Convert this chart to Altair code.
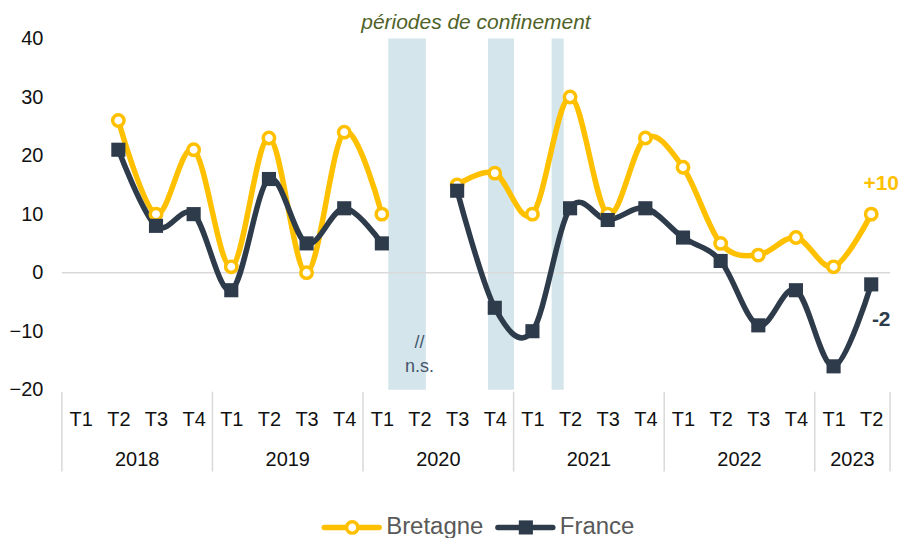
import altair as alt
import pandas as pd

# ---------------- data ----------------
quarters = ["T1", "T2", "T3", "T4"] * 5 + ["T1", "T2"]
years = ["2018", "2019", "2020", "2021", "2022", "2023"]
year_counts = [4, 4, 4, 4, 4, 2]

bretagne = [None, 26, 10, 21, 1, 23, 0, 24, 10, None, 15, 17, 10, 30, 10, 23, 18, 5, 3, 6, 1, 10]
france = [None, 21, 8, 10, -3, 16, 5, 11, 5, None, 14, -6, -10, 11, 9, 11, 6, 2, -9, -3, -16, -2]

series_names = ["Bretagne", "France"]
series_colors = ["#FFC000", "#2E3B4B"]

# confinement periods, in quarter-index units
band_start = [8.17, 10.82, 12.51]
band_end = [9.17, 11.51, 12.83]
band_title = "périodes de confinement"

ns_labels = ["//", "n.s."]
ns_values = [-12, -16.2]
ns_quarter = 9

end_labels = ["+10", "-2"]

# ---------------- derived tables ----------------
rows = []
for name, vals in zip(series_names, [bretagne, france]):
    seg = 0
    for i, v in enumerate(vals):
        if v is None:
            seg += 1
            continue
        rows.append({"series": name, "idx": i, "value": v, "seg": f"{name}-{seg}"})
df = pd.DataFrame(rows)

bounds = [-0.5]
for c in year_counts:
    bounds.append(bounds[-1] + c)
sep_df = pd.DataFrame({"pos": bounds})
year_df = pd.DataFrame({
    "year": years,
    "pos": [(bounds[k] + bounds[k + 1]) / 2 for k in range(len(years))],
})
band_df = pd.DataFrame({"start": band_start, "end": band_end})
title_df = pd.DataFrame({"label": [band_title], "pos": [(min(band_start) + max(band_end)) / 2]})
ns_df = pd.DataFrame({"label": ns_labels, "value": ns_values, "pos": [ns_quarter] * 2})
end_df = pd.DataFrame({
    "series": series_names,
    "idx": [len(bretagne) - 1] * 2,
    "value": [bretagne[-1], france[-1]],
    "label": end_labels,
})

n = len(quarters)
W, H = 830, 352
FONT = "Liberation Sans"
CIRCLE_SIZE = 130
SQUARE_SIZE = 200

xscale = alt.Scale(domain=[-0.5, n - 0.5], nice=False, zero=False)
yscale = alt.Scale(domain=[-20, 40], nice=False)
cscale = alt.Scale(domain=series_names, range=series_colors)

label_expr = "[" + ",".join(f"'{q}'" for q in quarters) + "][datum.value]"
xaxis = alt.Axis(values=list(range(n)), labelExpr=label_expr, title=None, domain=False,
                 ticks=False, grid=False, labelFontSize=20, labelFont=FONT,
                 labelColor="#111111", labelPadding=30, labelBaseline="middle",
                 labelAngle=0, labelFlush=False, labelOverlap=False)
yaxis = alt.Axis(values=[-20, -10, 0, 10, 20, 30, 40], title=None, domain=False,
                 ticks=False, grid=False, labelFontSize=20, labelFont=FONT,
                 labelColor="#111111", labelPadding=19)

X = lambda f: alt.X(f, scale=xscale, axis=xaxis, title=None)
Y = lambda f: alt.Y(f, scale=yscale, axis=yaxis, title=None)

bands = alt.Chart(band_df).mark_rect(color="#D4E6EC").encode(
    x=X("start:Q"), x2="end:Q", y=alt.value(0), y2=alt.value(H))

zero = alt.Chart(pd.DataFrame({"v": [0]})).mark_rule(color="#D9D9D9", strokeWidth=1.5).encode(
    y=Y("v:Q"), x=alt.value(0), x2=alt.value(W))

seps = alt.Chart(sep_df).mark_rule(color="#D9D9D9", strokeWidth=1.5).encode(
    x=X("pos:Q"), y=alt.value(H + 2), y2=alt.value(H + 82))

year_text = alt.Chart(year_df).mark_text(fontSize=20, font=FONT, color="#111111",
                                         baseline="middle").encode(
    x=X("pos:Q"), y=alt.value(H + 70), text="year:N")

lines = alt.Chart(df).mark_line(interpolate="cardinal", strokeWidth=5.5, strokeCap="round").encode(
    x=X("idx:Q"),
    y=Y("value:Q"),
    color=alt.Color("series:N", scale=cscale, legend=None),
    detail="seg:N",
    order="idx:Q",
)

circles = alt.Chart(df).transform_filter(alt.datum.series == series_names[0]).mark_point(
    shape="circle", filled=True, fill="white", stroke=series_colors[0], strokeWidth=3.5,
    size=CIRCLE_SIZE, opacity=1).encode(x=X("idx:Q"), y=Y("value:Q"))

squares = alt.Chart(df).transform_filter(alt.datum.series == series_names[1]).mark_point(
    shape="square", filled=True, fill=series_colors[1], strokeWidth=0,
    size=SQUARE_SIZE, opacity=1).encode(x=X("idx:Q"), y=Y("value:Q"))

end_b = alt.Chart(end_df).transform_filter(alt.datum.series == series_names[0]).mark_text(
    fontSize=21, font=FONT, fontWeight="bold", color=series_colors[0], dx=10, dy=-30).encode(
    x=X("idx:Q"), y=Y("value:Q"), text="label:N")
end_f = alt.Chart(end_df).transform_filter(alt.datum.series == series_names[1]).mark_text(
    fontSize=21, font=FONT, fontWeight="bold", color=series_colors[1], dx=10, dy=36).encode(
    x=X("idx:Q"), y=Y("value:Q"), text="label:N")

ns_text = alt.Chart(ns_df).mark_text(fontSize=18, font=FONT, color="#44546A").encode(
    x=X("pos:Q"), y=Y("value:Q"), text="label:N")

title_text = alt.Chart(title_df).mark_text(fontSize=21, font=FONT, fontStyle="italic",
                                           color="#4F6228", baseline="middle").encode(
    x=X("pos:Q"), y=alt.value(-16), text="label:N")


def legend_item(name, color, shape, x0):
    base = alt.Chart(pd.DataFrame({"series": [name]}))
    ly = H + 138
    line = base.mark_rule(color=color, strokeWidth=5.5, strokeCap="round").encode(
        x=alt.value(x0), x2=alt.value(x0 + 55), y=alt.value(ly))
    if shape == "circle":
        mk = base.mark_point(shape="circle", filled=True, fill="white", stroke=color,
                             strokeWidth=3.5, size=CIRCLE_SIZE, opacity=1).encode(
            x=alt.value(x0 + 28), y=alt.value(ly))
    else:
        mk = base.mark_point(shape="square", filled=True, fill=color, strokeWidth=0,
                             size=SQUARE_SIZE, opacity=1).encode(x=alt.value(x0 + 28), y=alt.value(ly))
    txt = base.mark_text(fontSize=24, font=FONT, color="#595959", align="left",
                         baseline="middle").encode(
        x=alt.value(x0 + 62), y=alt.value(ly), text="series:N")
    return [line, mk, txt]


legend_layers = legend_item(series_names[0], series_colors[0], "circle", 263) + \
    legend_item(series_names[1], series_colors[1], "square", 437)

chart = alt.layer(
    bands, zero, seps, year_text, lines, circles, squares, end_b, end_f, ns_text, title_text,
    *legend_layers,
).properties(
    width=W, height=H,
    padding={"left": 54, "top": 30, "right": 25, "bottom": 148},
    autosize=alt.AutoSizeParams(type="none"),
    background="white",
).configure_view(stroke=None)

chart.save("out.html", embed_options={"renderer": "svg", "actions": False})
